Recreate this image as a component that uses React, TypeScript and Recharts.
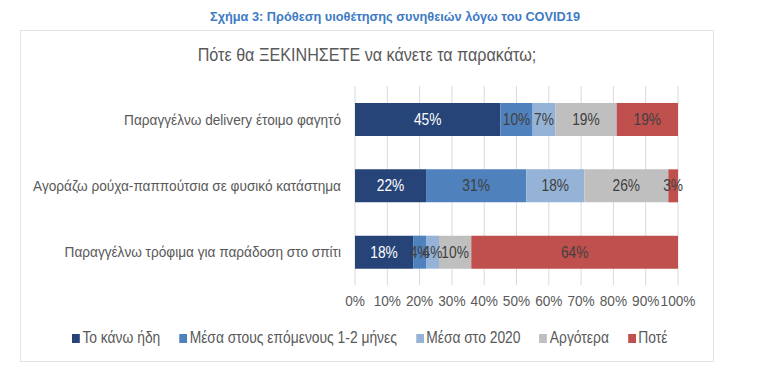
import { BarChart, Bar, XAxis, YAxis, CartesianGrid, LabelList } from 'recharts';

const categories = [
  'Παραγγέλνω delivery έτοιμο φαγητό',
  'Αγοράζω ρούχα-παππούτσια σε φυσικό κατάστημα',
  'Παραγγέλνω τρόφιμα για παράδοση στο σπίτι',
];

const seriesNames = ['Το κάνω ήδη', 'Μέσα στους επόμενους 1-2 μήνες', 'Μέσα στο 2020', 'Αργότερα', 'Ποτέ'];

const alreadyDo = [45, 22, 18];
const nextMonths = [10, 31, 4];
const within2020 = [7, 18, 4];
const later = [19, 26, 10];
const never = [19, 3, 64];

const xTicks = [0, 10, 20, 30, 40, 50, 60, 70, 80, 90, 100];

const COLORS = ['#264478', '#4F81BD', '#95B3D7', '#BFBFBF', '#C0504D'];
const FONT = '"Liberation Sans", Arial, sans-serif';
const NARROW = 0.88;
const LEGEND_SCALE = 0.865;

const data = categories.map((name, i) => ({
  name,
  alreadyDo: alreadyDo[i],
  nextMonths: nextMonths[i],
  within2020: within2020[i],
  later: later[i],
  never: never[i],
}));

// squeezed text to mimic Arial Narrow
const NarrowText = (props: any) => {
  const { x, y, payload, textAnchor, fill, fontSize, dy, formatter } = props;
  const label = formatter ? formatter(payload.value) : payload.value;
  return (
    <g transform={`translate(${x},${y}) scale(${NARROW},1)`}>
      <text x={0} y={0} dy={dy} textAnchor={textAnchor} fill={fill} fontSize={fontSize} fontFamily={FONT}>
        {label}
      </text>
    </g>
  );
};

const XTick = (props: any) => (
  <NarrowText {...props} textAnchor="middle" dy="0.71em" fill="#595959" fontSize={15.5} formatter={(v: number) => `${v}%`} />
);

const YTick = (props: any) => <NarrowText {...props} textAnchor="end" dy="0.35em" fill="#595959" fontSize={15.5} />;

const BarLabel = (color: string) => (props: any) => {
  const { x, y, width, height, value } = props;
  const cx = Number(x) + Number(width) / 2;
  const cy = Number(y) + Number(height) / 2;
  return (
    <g transform={`translate(${cx},${cy}) scale(0.86,1)`}>
      <text x={0} y={0} dy="0.35em" textAnchor="middle" fill={color} fontSize={16} fontFamily={FONT}>
        {`${value}%`}
      </text>
    </g>
  );
};

export default function App() {
  return (
    <div style={{ position: 'absolute', left: 0, top: 0, width: 768, height: 376, background: '#fff', overflow: 'hidden' }}>
      <div
        style={{
          position: 'absolute',
          left: 0,
          top: 9,
          width: 790,
          textAlign: 'center',
          fontFamily: FONT,
          fontWeight: 'bold',
          fontSize: 12.75,
          color: '#3E7BC4',
        }}
      >
        Σχήμα 3: Πρόθεση υιοθέτησης συνηθειών λόγω του COVID19
      </div>
      <div
        style={{
          position: 'absolute',
          left: 20,
          top: 30,
          width: 692,
          height: 330,
          border: '1.5px solid #E3E3E3',
        }}
      />
      <div
        style={{
          position: 'absolute',
          left: 20,
          top: 44,
          width: 694,
          textAlign: 'center',
          fontFamily: FONT,
          fontSize: 19,
          color: '#595959',
          transform: 'scaleX(0.85)',
        }}
      >
        Πότε θα ΞΕΚΙΝΗΣΕΤΕ να κάνετε τα παρακάτω;
      </div>
      <div style={{ position: 'absolute', left: 0, top: 0 }}>
        <BarChart
          width={768}
          height={376}
          data={data}
          layout="vertical"
          margin={{ top: 86, right: 90, bottom: 61, left: 0 }}
          barSize={33}
        >
          <CartesianGrid horizontal={false} stroke="#D9D9D9" />
          <XAxis
            type="number"
            domain={[0, 100]}
            ticks={xTicks}
            axisLine={false}
            tickLine={false}
            tickSize={0}
            tickMargin={10}
            height={30}
            interval={0}
            tick={<XTick />}
          />
          <YAxis
            type="category"
            dataKey="name"
            width={355}
            axisLine={false}
            tickLine={false}
            tickSize={0}
            tickMargin={14}
            tick={<YTick />}
          />
          <Bar dataKey="alreadyDo" name={seriesNames[0]} stackId="a" fill={COLORS[0]} isAnimationActive={false}>
            <LabelList dataKey="alreadyDo" content={BarLabel('#ffffff')} />
          </Bar>
          <Bar dataKey="nextMonths" name={seriesNames[1]} stackId="a" fill={COLORS[1]} isAnimationActive={false}>
            <LabelList dataKey="nextMonths" content={BarLabel('#404040')} />
          </Bar>
          <Bar dataKey="within2020" name={seriesNames[2]} stackId="a" fill={COLORS[2]} isAnimationActive={false}>
            <LabelList dataKey="within2020" content={BarLabel('#404040')} />
          </Bar>
          <Bar dataKey="later" name={seriesNames[3]} stackId="a" fill={COLORS[3]} isAnimationActive={false}>
            <LabelList dataKey="later" content={BarLabel('#404040')} />
          </Bar>
          <Bar dataKey="never" name={seriesNames[4]} stackId="a" fill={COLORS[4]} isAnimationActive={false}>
            <LabelList dataKey="never" content={BarLabel('#404040')} />
          </Bar>
        </BarChart>
      </div>
      <div
        style={{
          position: 'absolute',
          left: 72,
          top: 329,
          display: 'flex',
          gap: 19 / LEGEND_SCALE,
          fontFamily: FONT,
          fontSize: 16,
          color: '#595959',
          whiteSpace: 'nowrap',
          transform: `scaleX(${LEGEND_SCALE})`,
          transformOrigin: 'left center',
        }}
      >
        {seriesNames.map((n, i) => (
          <div key={n} style={{ display: 'flex', alignItems: 'center', gap: 3 }}>
            <span style={{ display: 'inline-block', width: 9, height: 9, background: COLORS[i] }} />
            <span>{n}</span>
          </div>
        ))}
      </div>
    </div>
  );
}
